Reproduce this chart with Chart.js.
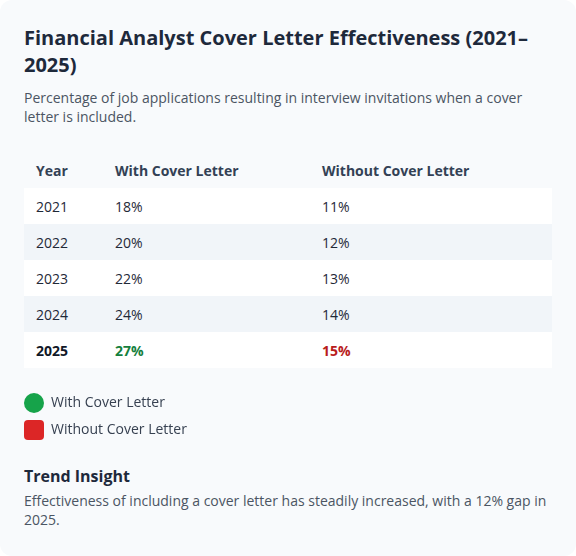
<!DOCTYPE html>
<html>
<head>
<meta charset="utf-8">
<script src="https://cdn.jsdelivr.net/npm/chart.js@4.4.1/dist/chart.umd.min.js"></script>
<style>
  html, body { margin: 0; padding: 0; background: #ffffff; }
  body { width: 576px; height: 556px; font-family: "Open Sans", "Noto Sans", sans-serif; }
  .card { box-sizing: border-box; width: 576px; height: 556px; background: #f8fafc; border-radius: 12px; padding: 24px; position: relative; }
  h1 { margin: 0; font-size: 20px; line-height: 27px; font-weight: 700; color: #1e293b; }
  .sub { margin: 10px 0 0 0; font-size: 14px; line-height: 19px; color: #4b5563; }
  table { margin-top: 26px; width: 528px; border-collapse: collapse; font-size: 14px; table-layout: fixed; }
  th, td { height: 36px; padding: 0 12px; text-align: left; box-sizing: border-box; }
  th { font-weight: 700; color: #334155; }
  td { color: #1f2937; }
  tbody tr:nth-child(odd) { background: #ffffff; }
  tbody tr:nth-child(even) { background: #f1f5f9; }
  tr.last td { font-weight: 700; color: #111827; }
  .legendWrap { position: relative; margin-left: -13px; margin-top: 15px; width: 541px; height: 70px; }
  h2 { margin: 11px 0 0 0; font-size: 16px; line-height: 24px; font-weight: 700; color: #1e293b; }
  .insight { margin: 3px 0 0 0; font-size: 14px; line-height: 19px; color: #4b5563; }
</style>
</head>
<body>
<div class="card">
  <h1 id="title"></h1>
  <p class="sub" id="subtitle"></p>
  <table id="tbl">
    <colgroup><col style="width:79px"><col style="width:207px"><col style="width:242px"></colgroup>
    <thead><tr id="head"></tr></thead>
    <tbody id="body"></tbody>
  </table>
  <div class="legendWrap"><canvas id="legend"></canvas></div>
  <h2 id="insightTitle"></h2>
  <p class="insight" id="insightText"></p>
</div>
<script>
const titleText = "Financial Analyst Cover Letter Effectiveness (2021–2025)";
const subtitleText = "Percentage of job applications resulting in interview invitations when a cover letter is included.";
const columnHeaders = ["Year", "With Cover Letter", "Without Cover Letter"];
const years = ["2021", "2022", "2023", "2024", "2025"];
const withCoverLetter = [18, 20, 22, 24, 27];
const withoutCoverLetter = [11, 12, 13, 14, 15];
const seriesNames = ["With Cover Letter", "Without Cover Letter"];
const seriesColors = ["#16a34a", "#dc2626"];
const highlightColors = ["#15803d", "#b91c1c"];
const insightTitle = "Trend Insight";
const insightText = "Effectiveness of including a cover letter has steadily increased, with a 12% gap in 2025.";

document.getElementById('title').textContent = titleText;
document.getElementById('subtitle').textContent = subtitleText;
document.getElementById('insightTitle').textContent = insightTitle;
document.getElementById('insightText').textContent = insightText;

const head = document.getElementById('head');
columnHeaders.forEach(h => { const th = document.createElement('th'); th.textContent = h; head.appendChild(th); });
const tbody = document.getElementById('body');
years.forEach((y, i) => {
  const tr = document.createElement('tr');
  const isLast = i === years.length - 1;
  if (isLast) tr.className = 'last';
  const cells = [y, withCoverLetter[i] + '%', withoutCoverLetter[i] + '%'];
  cells.forEach((c, j) => {
    const td = document.createElement('td');
    td.textContent = c;
    if (isLast && j > 0) td.style.color = highlightColors[j - 1];
    tr.appendChild(td);
  });
  tbody.appendChild(tr);
});

// rounded-square legend marker
function roundedSquare(color, size, r) {
  const c = document.createElement('canvas');
  c.width = size; c.height = size;
  const g = c.getContext('2d');
  g.fillStyle = color;
  g.beginPath();
  g.moveTo(r, 0); g.lineTo(size - r, 0); g.quadraticCurveTo(size, 0, size, r);
  g.lineTo(size, size - r); g.quadraticCurveTo(size, size, size - r, size);
  g.lineTo(r, size); g.quadraticCurveTo(0, size, 0, size - r);
  g.lineTo(0, r); g.quadraticCurveTo(0, 0, r, 0);
  g.closePath(); g.fill();
  return c;
}

new Chart(document.getElementById('legend'), {
  type: 'line',
  data: {
    labels: years,
    datasets: [
      { label: seriesNames[0], data: withCoverLetter, showLine: false, pointRadius: 0, pointHoverRadius: 0,
        pointStyle: 'circle', backgroundColor: seriesColors[0], borderColor: seriesColors[0], pointBorderWidth: 0 },
      { label: seriesNames[1], data: withoutCoverLetter, showLine: false, pointRadius: 0, pointHoverRadius: 0,
        pointStyle: roundedSquare(seriesColors[1], 20, 4), backgroundColor: seriesColors[1], borderColor: seriesColors[1], pointBorderWidth: 0 }
    ]
  },
  options: {
    responsive: true,
    maintainAspectRatio: false,
    animation: false,
    events: [],
    layout: { padding: 0 },
    scales: { x: { display: false }, y: { display: false } },
    plugins: {
      tooltip: { enabled: false },
      legend: {
        position: 'left',
        align: 'start',
        labels: {
          usePointStyle: true,
          pointStyleWidth: 20,
          boxHeight: 14,
          padding: 13,
          color: '#374151',
          font: { family: '"Open Sans", "Noto Sans", sans-serif', size: 14 }
        }
      }
    }
  }
});
</script>
</body>
</html>
